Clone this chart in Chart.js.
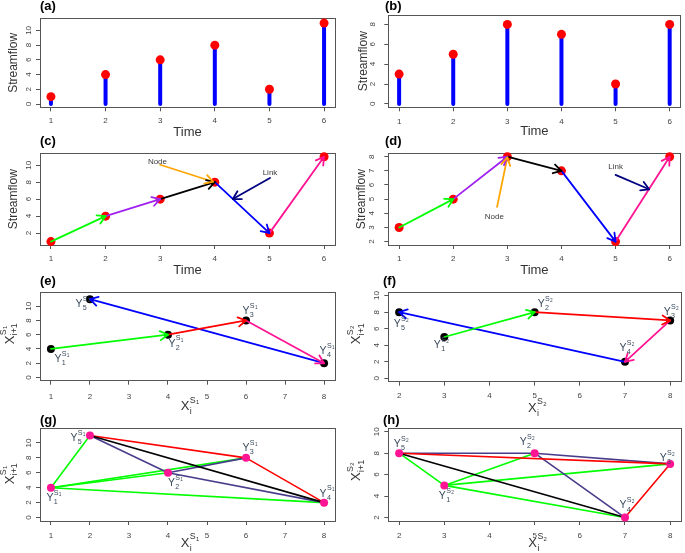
<!DOCTYPE html>
<html><head><meta charset="utf-8">
<script src="https://cdn.jsdelivr.net/npm/chart.js@4.4.1/dist/chart.umd.min.js"></script>
<style>
html,body{margin:0;padding:0;background:#fff;}
#wrap{position:relative;width:685px;height:553px;overflow:hidden;background:#fff;}
#wrap canvas{position:absolute;}
</style></head><body><div id="wrap"></div>
<script>
const FONT = '"Liberation Sans", Arial, Helvetica, sans-serif';
const AXIS = '#555', TICK = '#444', TITLE = '#333', LABEL = '#3b4a5c';

// ---------------- data ----------------
const panelLetters = ['(a)', '(b)', '(c)', '(d)', '(e)', '(f)', '(g)', '(h)'];
const timeSteps = [1, 2, 3, 4, 5, 6];
const streamflowS1 = [1, 4, 6, 8, 2, 11];
const streamflowS2 = [3, 5, 8, 7, 2, 8];
// phase-space nodes Y_k = (X_i, X_{i+1})
const phaseX1 = [1, 4, 6, 8, 2];
const phaseY1 = [4, 6, 8, 2, 11];
const phaseX2 = [3, 5, 8, 7, 2];
const phaseY2 = [5, 8, 7, 2, 8];
const nodeIndex = ['1', '2', '3', '4', '5'];

const tsLinkColors = ['#00FF00', '#A020F0', '#000000', '#0000FF', '#FF1493'];
const psLinkColors = ['#00FF00', '#FF0000', '#FF1493', '#0000FF'];
const visLinkColors = ['#00FF00', '#483D8B', '#FF0000', '#000000'];

// tick labels
const timeTicks = [1, 2, 3, 4, 5, 6];
const ticksFlowA = [0, 2, 4, 6, 8, 10];
const ticksFlowB = [0, 2, 4, 6, 8];
const ticksFlowC = [2, 4, 6, 8, 10];
const ticksFlowD = [2, 3, 4, 5, 6, 7, 8];
const ticksPhaseX1 = [1, 2, 3, 4, 5, 6, 7, 8];
const ticksPhaseY1 = [0, 2, 4, 6, 8, 10];
const ticksPhaseX2 = [2, 3, 4, 5, 6, 7, 8];
const ticksPhaseY2F = [0, 2, 4, 6, 8, 10];
const ticksPhaseY2H = [2, 4, 6, 8, 10];

// annotations: [text, textX, textY, fromX, fromY, toX, toY, colour]
const notesC = [['Node', 2.95, 10.45, 3.0, 10.05, 3.97, 8.05, '#FFA500'],
                ['Link', 5.01, 9.13, 5.01, 8.49, 4.33, 6.02, '#000080']];
const notesD = [['Node', 2.76, 3.76, 2.81, 4.45, 3.0, 7.95, '#FFA500'],
                ['Link', 5.0, 7.29, 5.0, 6.71, 5.62, 5.7, '#000080']];

// label offsets (pixels, style only)
const labelOffE = [[7, 10], [4, 9], [0, -9], [-1, -12], [-11, 5]];
const labelOffF = [[-7, 8.5], [6.5, -8], [-3, -8.5], [-2, -14], [-2, 12]];
const labelOffG = [[-1, 10.5], [3.5, 10.5], [0, -10], [-1, -9], [-16, 3]];
const labelOffH = [[-2, 10.5], [-11.5, -11], [-7, -6], [-2, -12], [-2, -9]];

// ---------------- helpers ----------------
function expand(lim) { const s = lim[1] - lim[0]; return [lim[0] - 0.04 * s, lim[1] + 0.04 * s]; }

function seg(x0, y0, x1, y1, color, width, arrow, order) {
  return { type: 'scatter', showLine: true, data: [{ x: x0, y: y0 }, { x: x1, y: y1 }],
    borderColor: color, backgroundColor: color, borderWidth: width, pointRadius: 0, pointHoverRadius: 0,
    arrow: arrow, order: order, clip: false, borderCapStyle: 'round' };
}
function pts(xs, ys, color, r, order) {
  return { type: 'scatter', showLine: false, data: xs.map((x, i) => ({ x: x, y: ys[i] })),
    backgroundColor: color, borderColor: color, borderWidth: 0, pointRadius: r, pointHoverRadius: r,
    order: order, clip: false };
}

function drawScript(ctx, x, y, base, sub, sup, supSub, B, color) {
  ctx.save();
  ctx.fillStyle = color; ctx.textBaseline = 'middle'; ctx.textAlign = 'left';
  ctx.font = B + 'px ' + FONT;
  const bw = ctx.measureText(base).width;
  const x0 = x - bw / 2;
  ctx.fillText(base, x0, y);
  const xs = x0 + bw + B * 0.03;
  const s2 = B * 0.68;
  ctx.font = s2 + 'px ' + FONT;
  ctx.fillText(sup, xs, y - B * 0.5);
  const sw = ctx.measureText(sup).width;
  ctx.fillText(sub, xs, y + B * 0.38);
  ctx.font = (B * 0.45) + 'px ' + FONT;
  ctx.fillText(supSub, xs + sw + 0.3, y - B * 0.33);
  ctx.restore();
}

function scaleOpts(lim, ticks, isX, p) {
  const r = expand(lim);
  const o = {
    type: 'linear', bounds: 'data', offset: false, min: r[0], max: r[1],
    afterBuildTicks: s => { s.ticks = ticks.map(v => ({ value: v })); },
    afterFit: s => { if (isX) s.height = p.xh; else s.width = p.yw; },
    grid: { display: true, drawOnChartArea: false, drawTicks: true, tickLength: 4, color: AXIS, lineWidth: 1, offset: false },
    border: { display: false },
    ticks: { autoSkip: false, font: { family: FONT, size: 8 }, color: TICK, callback: v => String(v) }
  };
  if (isX) {
    Object.assign(o.ticks, { maxRotation: 0, minRotation: 0, padding: p.xtp });
    if (p.xTitle) o.title = { display: true, text: p.xTitle, color: TITLE,
      font: { family: FONT, size: 13, lineHeight: 1 }, padding: { top: 0, bottom: p.xTitlePad } };
  } else {
    Object.assign(o.ticks, { minRotation: 90, maxRotation: 90, crossAlign: 'center', padding: p.ytp });
    if (p.yTitle) o.title = { display: true, text: p.yTitle, color: TITLE,
      font: { family: FONT, size: 12, lineHeight: 1 }, padding: { top: p.yTitlePad, bottom: 0 } };
  }
  return o;
}

function panelPlugin(p) {
  return {
    id: 'panel_' + p.key,
    beforeDatasetsDraw(chart) {
      const { ctx, chartArea: a } = chart;
      ctx.save(); ctx.strokeStyle = AXIS; ctx.lineWidth = 1;
      ctx.strokeRect(Math.round(a.left) + 0.5, Math.round(a.top) + 0.5,
        Math.round(a.right - a.left), Math.round(a.bottom - a.top));
      ctx.restore();
    },
    afterDatasetsDraw(chart) {
      const ctx = chart.ctx;
      chart.data.datasets.forEach((ds, i) => {
        if (!ds.arrow) return;
        const meta = chart.getDatasetMeta(i);
        const a = meta.data[0], b = meta.data[1];
        const ang = Math.atan2(b.y - a.y, b.x - a.x);
        const L = 9, A = Math.PI / 6;
        ctx.save(); ctx.strokeStyle = ds.borderColor; ctx.lineWidth = ds.borderWidth; ctx.lineCap = 'round';
        ctx.beginPath();
        [-1, 1].forEach(s => {
          ctx.moveTo(b.x, b.y);
          ctx.lineTo(b.x - L * Math.cos(ang + s * A), b.y - L * Math.sin(ang + s * A));
        });
        ctx.stroke(); ctx.restore();
      });
      const xs = chart.scales.x, ys = chart.scales.y;
      (p.notes || []).forEach(n => {
        ctx.save(); ctx.fillStyle = '#3a3a3a'; ctx.font = '8px ' + FONT;
        ctx.textAlign = 'center'; ctx.textBaseline = 'middle';
        ctx.fillText(n[0], xs.getPixelForValue(n[1]), ys.getPixelForValue(n[2]));
        ctx.restore();
      });
      if (p.labels) {
        const L = p.labels;
        L.xs.forEach((v, k) => {
          drawScript(ctx, xs.getPixelForValue(v) + L.off[k][0], ys.getPixelForValue(L.ys[k]) + L.off[k][1],
            'Y', nodeIndex[k], 'S', L.s, 10.5, LABEL);
        });
      }
    },
    afterDraw(chart) {
      const ctx = chart.ctx;
      const cx = p.canvas[0], cy = p.canvas[1];
      ctx.save();
      ctx.font = 'bold 13px ' + FONT; ctx.fillStyle = '#000';
      ctx.textBaseline = 'middle'; ctx.textAlign = 'left';
      ctx.fillText(p.letter, p.letterPos[0] - cx, p.letterPos[1] - cy);
      ctx.restore();
      if (p.script) {
        const s = p.script;
        drawScript(ctx, s.x[0] - cx, s.x[1] - cy, 'X', 'i', 'S', s.s, 13, TITLE);
        ctx.save();
        ctx.translate(s.y[0] - cx, s.y[1] - cy);
        ctx.rotate(-Math.PI / 2);
        drawScript(ctx, 0, 0, 'X', 'i+1', 'S', s.s, 13, TITLE);
        ctx.restore();
      }
    }
  };
}

function makePanel(p) {
  const c = document.createElement('canvas');
  const [x, y, w, h] = p.canvas;
  c.width = w; c.height = h;
  c.style.left = x + 'px'; c.style.top = y + 'px'; c.style.width = w + 'px'; c.style.height = h + 'px';
  document.getElementById('wrap').appendChild(c);
  const [al, at, ar, ab] = p.area;
  p.yw = al - x; p.xh = y + h - ab;
  new Chart(c, {
    type: 'scatter',
    data: { datasets: p.datasets },
    options: {
      responsive: false, animation: false, devicePixelRatio: 1, events: [],
      layout: { padding: { left: 0, top: at - y, right: x + w - ar, bottom: 0 } },
      plugins: { legend: { display: false }, tooltip: { enabled: false }, title: { display: false } },
      scales: { x: scaleOpts(p.xlim, p.xticks, true, p), y: scaleOpts(p.ylim, p.yticks, false, p) }
    },
    plugins: [panelPlugin(p)]
  });
}

// ---------------- datasets ----------------
function stemSets(ts, vals) {
  const d = ts.map((t, i) => seg(t, 0, t, vals[i], '#0000FF', 4, false, 10 + i));
  d.push(pts(ts, vals, '#FF0000', 4.5, 0));
  return d;
}
function arrowSets(ts, vals, colors, notes, pointColor, r) {
  const d = [pts(ts, vals, pointColor, r, 100)];
  for (let i = 0; i < ts.length - 1; i++) d.push(seg(ts[i], vals[i], ts[i + 1], vals[i + 1], colors[i], 1.8, true, i));
  (notes || []).forEach(n => d.push(seg(n[3], n[4], n[5], n[6], n[7], 1.8, true, -1)));
  return d;
}
function visSets(xs, ys) {
  const d = []; let k = 0;
  for (let i = 0; i < xs.length; i++) for (let j = i + 1; j < xs.length; j++) {
    d.push(seg(xs[i], ys[i], xs[j], ys[j], visLinkColors[i], 1.6, false, 100 - k)); k++;
  }
  d.push(pts(xs, ys, '#FF1493', 4, -1000));
  return d;
}

const panels = [
  { key: 'a', letter: panelLetters[0], letterPos: [40, 6.5], canvas: [0, 0, 342, 140], area: [40, 18.3, 335, 107.3],
    xlim: [1, 6], ylim: [0, 11.2], xticks: timeTicks, yticks: ticksFlowA, xtp: 5, ytp: 2.5,
    xTitle: 'Time', xTitlePad: 0.8, yTitle: 'Streamflow', yTitlePad: 8, datasets: stemSets(timeSteps, streamflowS1) },
  { key: 'b', letter: panelLetters[1], letterPos: [385, 6], canvas: [342, 0, 343, 140], area: [388.3, 15, 683.3, 107.3],
    xlim: [1, 6], ylim: [0, 8.6], xticks: timeTicks, yticks: ticksFlowB, xtp: 6, ytp: 8.8,
    xTitle: 'Time', xTitlePad: 1.8, yTitle: 'Streamflow', yTitlePad: 15.3, datasets: stemSets(timeSteps, streamflowS2) },
  { key: 'c', letter: panelLetters[2], letterPos: [40, 141.7], canvas: [0, 132, 342, 148], area: [40, 153.3, 335, 245],
    xlim: [1, 6], ylim: [1, 11], xticks: timeTicks, yticks: ticksFlowC, xtp: 5, ytp: 3.2,
    xTitle: 'Time', xTitlePad: 3.5, yTitle: 'Streamflow', yTitlePad: 8, notes: notesC,
    datasets: arrowSets(timeSteps, streamflowS1, tsLinkColors, notesC, '#FF0000', 4.5) },
  { key: 'd', letter: panelLetters[3], letterPos: [385, 141.7], canvas: [342, 132, 343, 148], area: [388.3, 153.3, 683.3, 245],
    xlim: [1, 6], ylim: [2, 8], xticks: timeTicks, yticks: ticksFlowD, xtp: 5, ytp: 10.4,
    xTitle: 'Time', xTitlePad: 3.5, yTitle: 'Streamflow', yTitlePad: 13.7, notes: notesD,
    datasets: arrowSets(timeSteps, streamflowS2, tsLinkColors, notesD, '#FF0000', 4.5) },
  { key: 'e', letter: panelLetters[4], letterPos: [40, 281.5], canvas: [0, 272, 342, 148], area: [40, 292.3, 335, 380.7],
    xlim: [1, 8], ylim: [0, 11.5], xticks: ticksPhaseX1, yticks: ticksPhaseY1, xtp: 7.5, ytp: 2.5,
    labels: { xs: phaseX1, ys: phaseY1, off: labelOffE, s: '1' },
    script: { x: [185, 406.7], y: [10, 340], s: '1' },
    datasets: arrowSets(phaseX1, phaseY1, psLinkColors, null, '#000000', 4) },
  { key: 'f', letter: panelLetters[5], letterPos: [383, 281], canvas: [342, 272, 343, 148], area: [388.3, 292.3, 683.3, 381.7],
    xlim: [2, 8], ylim: [0, 10], xticks: ticksPhaseX2, yticks: ticksPhaseY2F, xtp: 5, ytp: 3.1,
    labels: { xs: phaseX2, ys: phaseY2, off: labelOffF, s: '2' },
    script: { x: [532.3, 408.3], y: [356.7, 340], s: '2' },
    datasets: arrowSets(phaseX2, phaseY2, psLinkColors, null, '#000000', 4) },
  { key: 'g', letter: panelLetters[6], letterPos: [40, 420], canvas: [0, 410, 342, 143], area: [40, 428.3, 335, 521],
    xlim: [1, 8], ylim: [0, 11.5], xticks: ticksPhaseX1, yticks: ticksPhaseY1, xtp: 6.3, ytp: 3.2,
    labels: { xs: phaseX1, ys: phaseY1, off: labelOffG, s: '1' },
    script: { x: [185, 543.3], y: [10, 480], s: '1' },
    datasets: visSets(phaseX1, phaseY1) },
  { key: 'h', letter: panelLetters[7], letterPos: [383, 420], canvas: [342, 410, 343, 143], area: [388.3, 428.3, 683.3, 521],
    xlim: [2, 8], ylim: [2, 10], xticks: ticksPhaseX2, yticks: ticksPhaseY2H, xtp: 6.3, ytp: 3.1,
    labels: { xs: phaseX2, ys: phaseY2, off: labelOffH, s: '2' },
    script: { x: [532.7, 543.3], y: [356.7, 476.7], s: '2' },
    datasets: visSets(phaseX2, phaseY2) }
];

panels.forEach(makePanel);
</script>
</body></html>
